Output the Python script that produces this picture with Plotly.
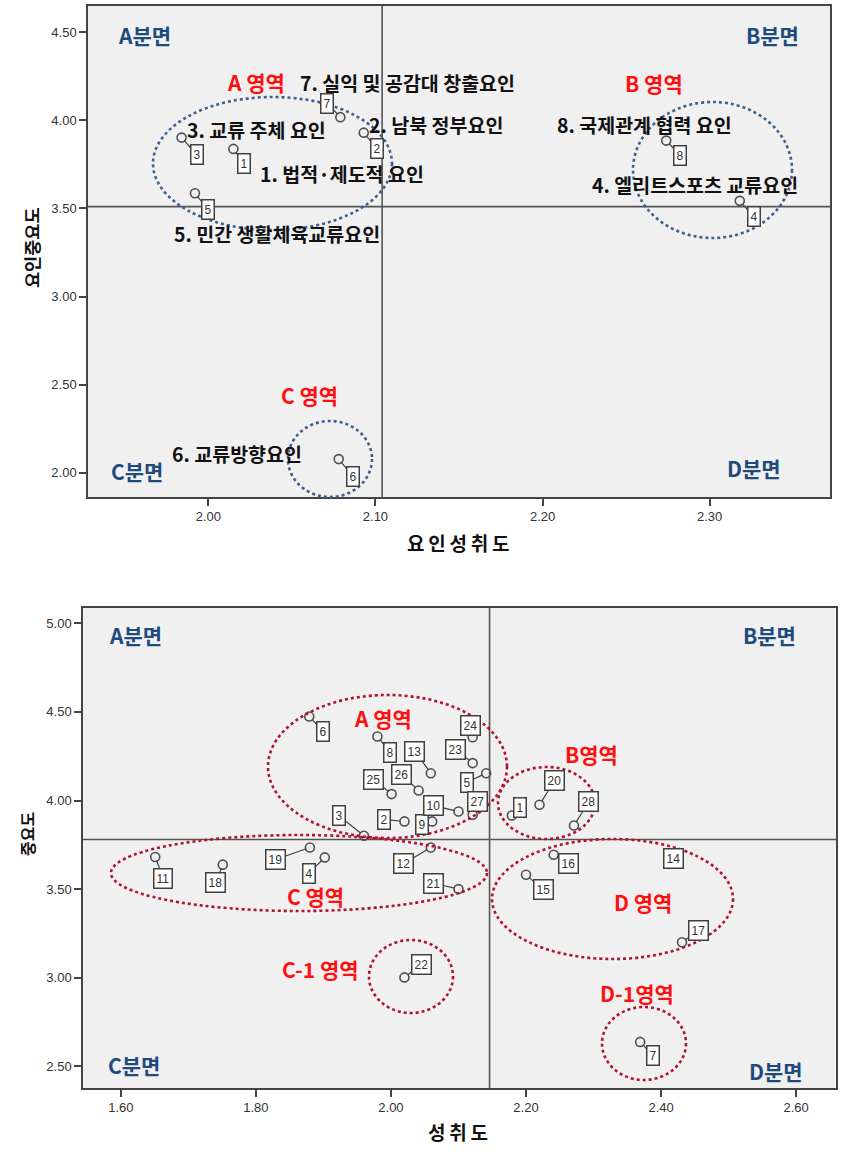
import plotly.graph_objects as go

# ---------------- data ----------------
# top chart: factor-level (요인) IPA
top_id = [1, 2, 3, 4, 5, 6, 7, 8]
top_x = [2.015, 2.093, 1.984, 2.318, 1.992, 2.078, 2.079, 2.274]   # 요인성취도
top_y = [3.838, 3.930, 3.902, 3.543, 3.586, 2.077, 4.018, 3.885]   # 요인중요도
top_name = ["법적·제도적 요인", "남북 정부요인", "교류 주체 요인", "엘리트스포츠 교류요인",
            "민간 생활체육교류요인", "교류방향요인", "실익 및 공감대 창출요인", "국제관계 협력 요인"]
top_mean_x = 2.104
top_mean_y = 3.51
top_xticks = [2.00, 2.10, 2.20, 2.30]
top_yticks = [2.00, 2.50, 3.00, 3.50, 4.00, 4.50]

# bottom chart: item-level IPA
bot_id = list(range(1, 29))
bot_x = [2.179, 2.020, 1.960, 1.902, 2.141, 1.879, 2.369, 1.980, 2.061, 2.100,
         1.651, 2.059, 2.059, 2.419, 2.200, 2.241, 2.431, 1.751, 1.880, 2.220,
         2.100, 2.020, 2.121, 2.121, 2.001, 2.041, 2.121, 2.271]          # 성취도
bot_y = [3.915, 3.882, 3.801, 3.679, 4.154, 4.474, 2.638, 4.361, 3.882, 3.938,
         3.681, 3.735, 4.154, 3.670, 3.581, 3.694, 3.200, 3.638, 3.735, 3.976,
         3.500, 3.002, 4.211, 4.357, 4.036, 4.056, 3.919, 3.859]          # 중요도
bot_mean_x = 2.146
bot_mean_y = 3.78
bot_xticks = [1.60, 1.80, 2.00, 2.20, 2.40, 2.60]
bot_yticks = [2.50, 3.00, 3.50, 4.00, 4.50, 5.00]

# ---------------- layout helpers ----------------
W, H = 841, 1162
def PX(p):
    return p / W
def PY(p):
    return 1 - p / H

KFONT = "Noto Sans CJK KR"
NFONT = "Liberation Sans, Arial"
QUAD_C = "#1f4a7e"
RED = "#ff1010"
BLUE_DOT = "#3f5f8f"
RED_DOT = "#b3122e"

# label-box offsets (pixels) relative to each point
top_off = {1: (11, 15), 2: (13, 16), 3: (15, 17), 4: (14, 16), 5: (13, 16),
           6: (14, 17), 7: (-13, -14), 8: (14, 15)}
bot_off = {1: (8, -8), 2: (-20, -2), 3: (-25, -20), 4: (-16, 16), 5: (-19, 9),
           6: (14, 15), 7: (13, 14), 8: (13, 16), 9: (-10, 3), 10: (-25, -6),
           11: (8, 21), 12: (-27, 16), 13: (-16, -22), 14: (0, 0), 15: (17, 15),
           16: (15, 9), 17: (16, -12), 18: (-7, 18), 19: (-34, 12), 20: (15, -24),
           21: (-25, -6), 22: (17, -13), 23: (-17, -14), 24: (-2, -12), 25: (-18, -15),
           26: (-17, -16), 27: (5, -13), 28: (15, -24)}

fig = go.Figure()

marker = dict(symbol="circle-open", size=9, color="#505050", line=dict(width=1.6, color="#505050"))
fig.add_trace(go.Scatter(x=top_x, y=top_y, mode="markers", marker=marker,
                         xaxis="x", yaxis="y", showlegend=False, hoverinfo="skip"))
fig.add_trace(go.Scatter(x=bot_x, y=bot_y, mode="markers", marker=marker,
                         xaxis="x2", yaxis="y2", showlegend=False, hoverinfo="skip"))

annotations = []

def box_label(i, x, y, off, xr, yr):
    annotations.append(dict(
        x=x, y=y, xref=xr, yref=yr, text=str(i), showarrow=True,
        ax=off[0], ay=off[1], arrowhead=0, arrowwidth=1.2, arrowcolor="#404040",
        standoff=4, font=dict(family=NFONT, size=12, color="#333333"),
        bgcolor="#ffffff", bordercolor="#404040", borderwidth=1.5, borderpad=2))

for i, x, y in zip(top_id, top_x, top_y):
    box_label(i, x, y, top_off[i], "x", "y")
for i, x, y in zip(bot_id, bot_x, bot_y):
    box_label(i, x, y, bot_off[i], "x2", "y2")

def text(px, py, s, size, color, anchor="center", angle=0, bold=True, family=KFONT):
    annotations.append(dict(
        x=PX(px), y=PY(py), xref="paper", yref="paper", text=f"<b>{s}</b>" if bold else s,
        showarrow=False, xanchor=anchor, yanchor="middle", textangle=angle,
        font=dict(family=family, size=size, color=color)))

# top chart factor names (left x, center y)
top_text_pos = {1: (258, 173), 2: (367, 125), 3: (185, 130), 4: (590, 185),
                5: (172, 233), 6: (170, 454), 7: (298, 82), 8: (555, 125)}
for i, nm in zip(top_id, top_name):
    px, py = top_text_pos[i]
    text(px, py, f"{i}. {nm}", 19.5, "#111111", anchor="left")

# quadrant labels
for s, px, py in [("A분면", 144, 35), ("B분면", 772, 35), ("C분면", 137, 471), ("D분면", 754, 468),
                  ("A분면", 135, 635), ("B분면", 769, 635), ("C분면", 134, 1065), ("D분면", 776, 1071)]:
    text(px, py, s, 21, QUAD_C)

# region labels
for s, px, py in [("A 영역", 256, 82), ("B 영역", 654, 83), ("C 영역", 309, 395),
                  ("A 영역", 383, 718), ("B영역", 591, 754), ("C 영역", 315, 896),
                  ("D 영역", 643, 902), ("C-1 영역", 320, 969), ("D-1영역", 637, 993)]:
    text(px, py, s, 21, RED)

# axis titles
text(458, 542, "요\u2009인\u2009성\u2009취\u2009도", 19, "#111111")
text(31, 247, "요인중요도", 17.5, "#111111", angle=-90)
text(458, 1131, "성\u2009취\u2009도", 19, "#111111")
text(27, 834, "중요도", 16, "#111111", angle=-90)

shapes = []
# mean lines
shapes.append(dict(type="line", xref="x", yref="y domain", x0=top_mean_x, x1=top_mean_x, y0=0, y1=1,
                   line=dict(color="#555555", width=1.6), layer="below"))
shapes.append(dict(type="line", xref="x domain", yref="y", x0=0, x1=1, y0=top_mean_y, y1=top_mean_y,
                   line=dict(color="#555555", width=1.6), layer="below"))
shapes.append(dict(type="line", xref="x2", yref="y2 domain", x0=bot_mean_x, x1=bot_mean_x, y0=0, y1=1,
                   line=dict(color="#555555", width=1.6), layer="below"))
shapes.append(dict(type="line", xref="x2 domain", yref="y2", x0=0, x1=1, y0=bot_mean_y, y1=bot_mean_y,
                   line=dict(color="#555555", width=1.6), layer="below"))

# region ellipses (pixel bounds)
ell_top = [(153, 97, 392, 230), (633, 102, 792, 238), (288, 421, 372, 497)]
ell_bot = [(268, 695, 507, 838), (498, 767, 595, 839), (111, 835, 487, 911),
           (492, 839, 733, 959), (369, 940, 453, 1013), (602, 1007, 686, 1080)]
for (x0, y0, x1, y1) in ell_top:
    shapes.append(dict(type="circle", xref="paper", yref="paper", x0=PX(x0), x1=PX(x1),
                       y0=PY(y1), y1=PY(y0), line=dict(color=BLUE_DOT, width=2.6, dash="dot")))
for (x0, y0, x1, y1) in ell_bot:
    shapes.append(dict(type="circle", xref="paper", yref="paper", x0=PX(x0), x1=PX(x1),
                       y0=PY(y1), y1=PY(y0), line=dict(color=RED_DOT, width=2.6, dash="dot")))

axis_common = dict(showline=True, linecolor="#444444", linewidth=1.5, mirror=True,
                   showgrid=False, zeroline=False, ticks="outside", ticklen=7,
                   tickcolor="#444444", tickwidth=1.5, tickformat=".2f",
                   tickfont=dict(family=NFONT, size=13, color="#333333"))

fig.update_layout(
    width=W, height=H, autosize=False,
    margin=dict(l=0, r=0, t=0, b=0),
    paper_bgcolor="#ffffff", plot_bgcolor="#f0f0f0",
    xaxis=dict(domain=[PX(88), PX(830)], range=[1.928, 2.372], tickvals=top_xticks,
               anchor="y", **axis_common),
    yaxis=dict(domain=[PY(497), PY(6)], range=[1.862, 4.649], tickvals=top_yticks,
               anchor="x", **axis_common),
    xaxis2=dict(domain=[PX(83), PX(836)], range=[1.544, 2.659], tickvals=bot_xticks,
                anchor="y2", **axis_common),
    yaxis2=dict(domain=[PY(1088), PY(608)], range=[2.378, 5.086], tickvals=bot_yticks,
                anchor="x2", **axis_common),
    annotations=annotations, shapes=shapes,
)

fig.write_html("out.html")
